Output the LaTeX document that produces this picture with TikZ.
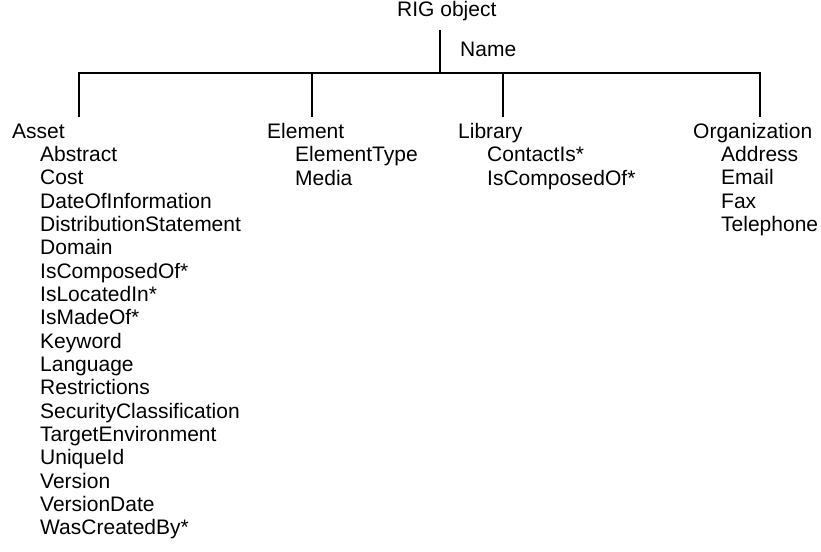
\documentclass[tikz,border=0pt]{standalone}
\usepackage{fontspec}
\setmainfont{Liberation Sans}
\begin{document}
\begin{tikzpicture}[x=1pt,y=-1pt,
  lbl/.style={anchor=base west,inner sep=0pt,font=\fontsize{21}{23}\selectfont},
  conn/.style={line width=1.8pt}]
\useasboundingbox (0,0) rectangle (821,551);
% header
\node[lbl] (rig) at (397,16.5) {RIG object};
\node[lbl] (name) at (460,56.5) {Name};
\coordinate (stemtop) at (440,30);
\coordinate (stem) at (440,73);
\coordinate (busl) at (79,73);
\coordinate (busr) at (760,73);
\coordinate (bE) at (312,73);
\coordinate (bL) at (503,73);
\coordinate (dA) at (79,117);
\coordinate (dE) at (312,117);
\coordinate (dL) at (503,117);
\coordinate (dO) at (760,117);
\draw[conn] (stemtop) -- (stem);
\draw[conn,line cap=rect] (busl) -- (busr);
\draw[conn] (busl) -- (dA);
\draw[conn] (bE) -- (dE);
\draw[conn] (bL) -- (dL);
\draw[conn] (busr) -- (dO);
% Asset
\node[lbl] (asset) at (12,138.3) {Asset};
\foreach \t [count=\i] in {Abstract,Cost,DateOfInformation,DistributionStatement,Domain,IsComposedOf*,IsLocatedIn*,IsMadeOf*,Keyword,Language,Restrictions,SecurityClassification,TargetEnvironment,UniqueId,Version,VersionDate,WasCreatedBy*}
  \node[lbl] (asset\i) at (40,138.3+23.33*\i) {\t};
% Element
\node[lbl] (element) at (267,138.3) {Element};
\node[lbl] (element1) at (295,161.6) {ElementType};
\node[lbl] (element2) at (295,185) {Media};
% Library
\node[lbl] (library) at (458,138.3) {Library};
\node[lbl] (library1) at (487,161.6) {ContactIs*};
\node[lbl] (library2) at (487,185) {IsComposedOf*};
% Organization
\node[lbl] (org) at (693,138.3) {Organization};
\foreach \t [count=\i] in {Address,Email,Fax,Telephone}
  \node[lbl] (org\i) at (721,138.3+23.33*\i) {\t};
\end{tikzpicture}
\end{document}
